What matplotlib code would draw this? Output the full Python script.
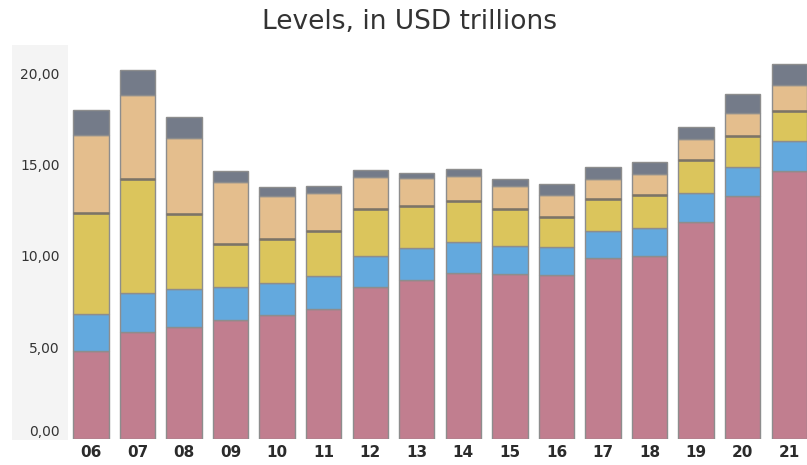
import matplotlib
matplotlib.use("Agg")
import matplotlib.pyplot as plt
import matplotlib.transforms as mtransforms
from matplotlib.patches import Rectangle
import numpy as np

years = ["06", "07", "08", "09", "10", "11", "12", "13", "14", "15", "16", "17", "18", "19", "20", "21"]

# Stacked components, bottom to top (USD trillions)
pink = [4.78, 5.85, 6.12, 6.49, 6.76, 7.07, 8.31, 8.68, 9.08, 9.00, 8.95, 9.86, 10.00, 11.83, 13.29, 14.64]
blue = [2.01, 2.10, 2.05, 1.82, 1.73, 1.82, 1.69, 1.76, 1.69, 1.55, 1.55, 1.50, 1.50, 1.59, 1.59, 1.64]
yellow = [5.56, 6.24, 4.10, 2.32, 2.41, 2.47, 2.55, 2.30, 2.25, 2.00, 1.60, 1.73, 1.83, 1.82, 1.68, 1.65]
tan = [4.25, 4.61, 4.19, 3.39, 2.37, 2.06, 1.78, 1.50, 1.37, 1.29, 1.23, 1.10, 1.13, 1.15, 1.24, 1.42]
gray = [1.40, 1.37, 1.15, 0.62, 0.51, 0.42, 0.37, 0.31, 0.36, 0.36, 0.60, 0.65, 0.66, 0.68, 1.04, 1.13]

yticks = [0, 5, 10, 15, 20]
ytick_labels = ["0,00", "5,00", "10,00", "15,00", "20,00"]

series = [pink, blue, yellow, tan, gray]
colors = ["#c17e8f", "#63a9de", "#dbc55c", "#e4be8d", "#747b89"]

W, H = 807, 465
fig = plt.figure(figsize=(W / 100, H / 100), dpi=100)
fig.patch.set_facecolor("white")

# light panel behind the y tick labels
fig.patches.append(Rectangle((12 / W, (H - 440) / H), (68 - 12) / W, (440 - 45) / H,
                             transform=fig.transFigure, facecolor="#f4f4f4",
                             edgecolor="none", zorder=-1))

ax = fig.add_axes([68 / W, (H - 438.5) / H, (807 - 68) / W, (438.5 - 45) / H])
ax.set_facecolor("none")
ax.set_zorder(1)

x = np.arange(len(years))
bottom = np.zeros(len(years))
for vals, col in zip(series, colors):
    v = np.array(vals)
    ax.bar(x, v, bottom=bottom, width=0.76, color=col, edgecolor="#8d8d8d",
           linewidth=1.0, zorder=2)
    bottom += v

# darker divider between the yellow and tan components
top_yellow = np.array(pink) + np.array(blue) + np.array(yellow)
ax.hlines(top_yellow, x - 0.38, x + 0.38, colors="#7c7466", linewidth=1.8, zorder=3)

ax.set_xlim(-0.49, 15.38)
ax.set_ylim(0, 21.54)
ax.set_xticks(x)
ax.set_xticklabels(years, fontsize=11, fontweight="bold", color="#2b2b2b")
ax.set_yticks(yticks)
ax.set_yticklabels(ytick_labels, fontsize=10, color="#333333")
ax.tick_params(axis="both", length=0)
ax.tick_params(axis="x", pad=5)
ax.tick_params(axis="y", pad=6)
for s in ax.spines.values():
    s.set_visible(False)

# keep the bottom tick label inside the panel
zero_label = ax.get_yticklabels()[0]
zero_label.set_transform(zero_label.get_transform() +
                         mtransforms.ScaledTranslation(0, 8 / 100, fig.dpi_scale_trans))

fig.text(409 / W, 1 - 22 / H, "Levels, in USD trillions", ha="center", va="center",
         fontsize=19, color="#333333")

fig.savefig("out.png", dpi=100)
